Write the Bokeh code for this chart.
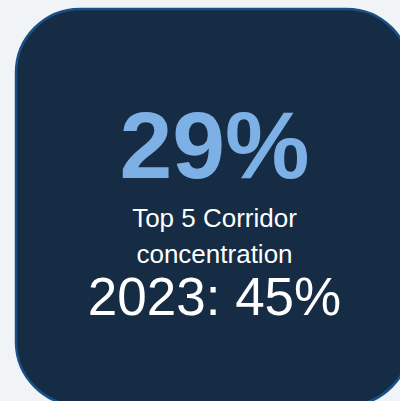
from bokeh.plotting import figure
from bokeh.models import Range1d
from bokeh.core.properties import value
from bokeh.embed import file_html
from bokeh.resources import INLINE

# ---- data ----
headline_share = ["29%"]
label_lines = ["Top 5 Corridor", "concentration"]
comparison_year = [2023]
comparison_share = ["45%"]

W, H = 400, 401
p = figure(width=W, height=H, output_backend="svg", toolbar_location=None,
           x_range=Range1d(0, W), y_range=Range1d(H, 0),
           min_border=0, outline_line_color=None,
           background_fill_color="#f1f4f7", border_fill_color="#f1f4f7")
p.axis.visible = False
p.grid.visible = False

# card
p.quad(left=[15.5], right=[410], top=[8.5], bottom=[405],
       fill_color="#152c44", line_color="#1a5088", line_width=2.5,
       border_radius=64)

cx = 214
font = value("Liberation Sans")
p.text(x=[cx], y=[144], text=headline_share, text_font=font,
       text_font_style="bold", text_font_size="95px", text_color="#7db0e5",
       text_align="center", text_baseline="alphabetic")
p.text(x=[cx, cx], y=[217.5, 253.5], text=label_lines, text_font=font,
       text_font_size="26px", text_color="#ffffff",
       text_align="center", text_baseline="alphabetic")
p.text(x=[cx], y=[295.5],
       text=[f"{comparison_year[0]}: {comparison_share[0]}"], text_font=font,
       text_font_size="53px", text_color="#ffffff",
       text_align="center", text_baseline="alphabetic")

html = file_html(p, INLINE)
html = html.replace("<body>", '<body style="background:#f1f4f7">')
open("out.html", "w").write(html)
